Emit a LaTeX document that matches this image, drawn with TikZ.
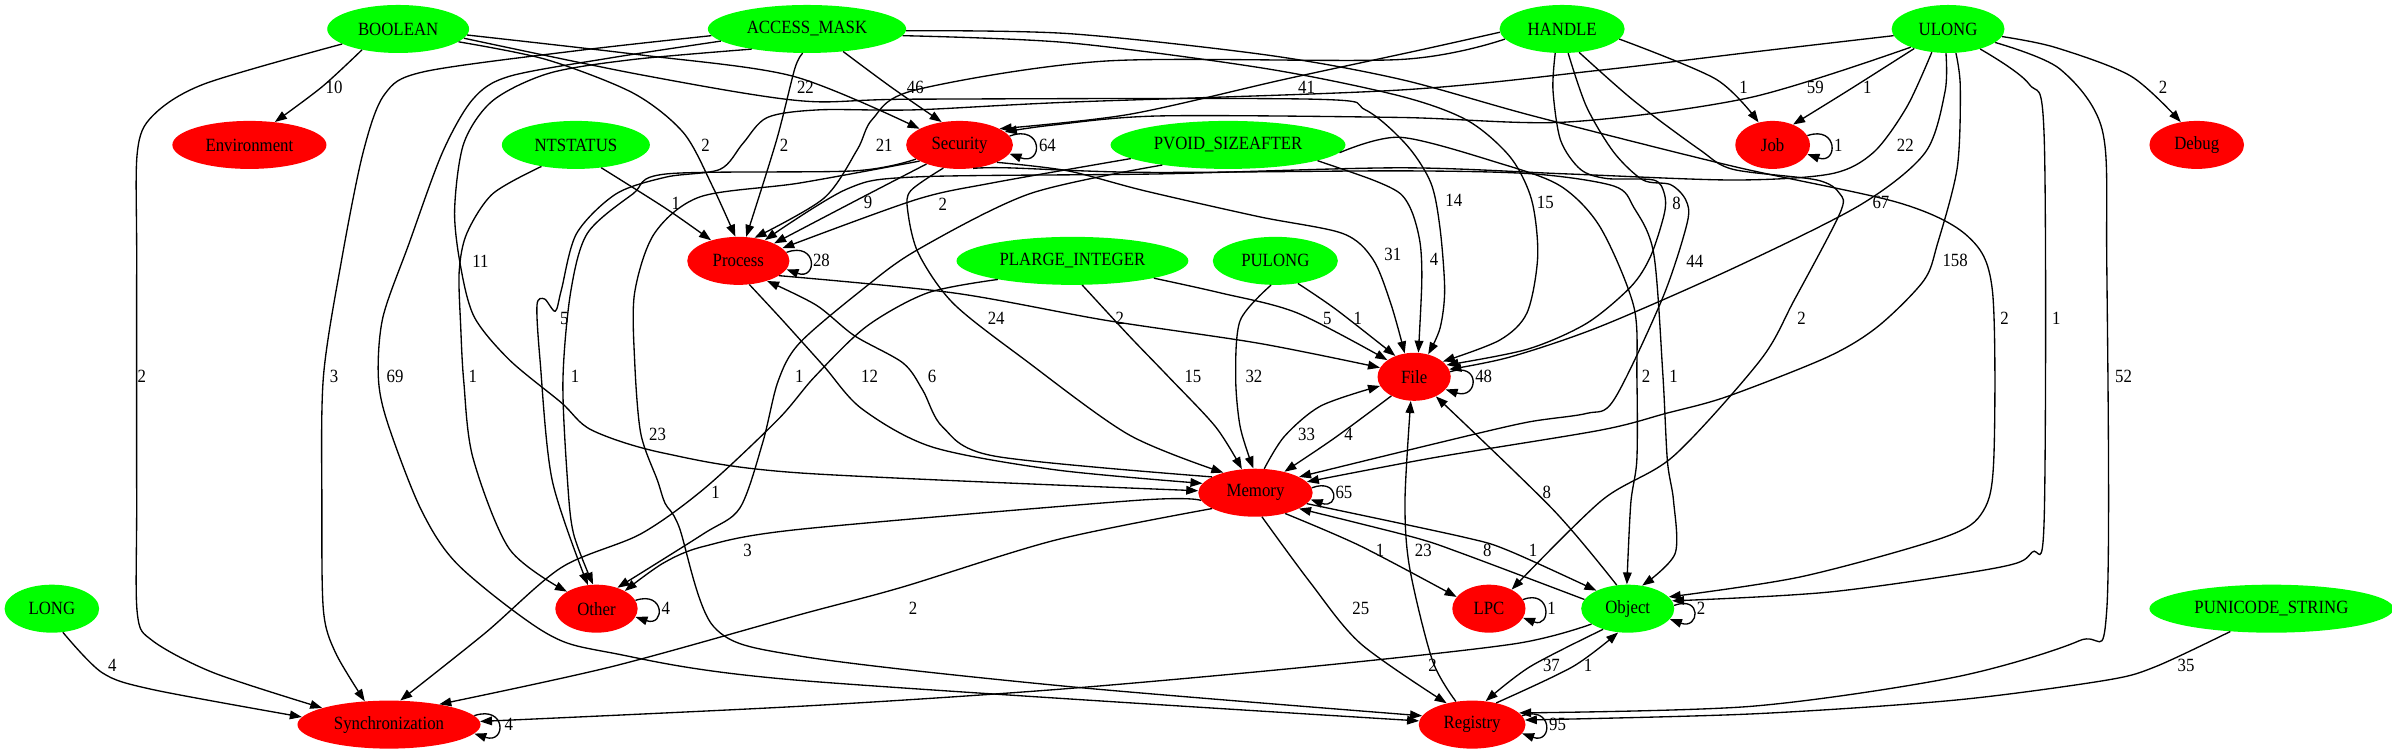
\documentclass[tikz,border=0pt]{standalone}
\usepackage{fontspec}
\setmainfont{Liberation Serif}[FakeStretch=0.9]
\usetikzlibrary{shapes.geometric,arrows.meta}
\definecolor{srcgreen}{RGB}{0,255,0}
\definecolor{catred}{RGB}{255,0,0}

\begin{document}
\begin{tikzpicture}[x=1.144pt, y=-1.144pt, >={Triangle[length=9pt,width=6.5pt]},
  nbox/.style={ellipse, inner sep=0pt, minimum height=36pt, font=\fontsize{14}{16}\selectfont},
  typenode/.style={nbox, fill=srcgreen, minimum width=#1*1.144pt},
  catnode/.style={nbox, fill=catred, minimum width=#1*1.144pt},
  link/.style={->, line width=1pt},
  lbl/.style={inner sep=0pt, font=\fontsize{14}{16}\selectfont}]

	\useasboundingbox (0,0) rectangle (1568,495);

	% types (top row and the others)
	\node[typenode=93] (bool) at (261,19) {BOOLEAN};
	\node[typenode=130] (amask) at (529,19) {ACCESS\_MASK};
	\node[typenode=82] (handle) at (1024,19) {HANDLE};
	\node[typenode=74] (ulong) at (1277,19) {ULONG};
	\node[typenode=97] (ntst) at (377.5,95) {NTSTATUS};
	\node[typenode=154] (pvoid) at (805,95) {PVOID\_SIZEAFTER};
	\node[typenode=152] (plarge) at (703,171) {PLARGE\_INTEGER};
	\node[typenode=82] (pulong) at (836,171) {PULONG};
	\node[typenode=62] (long) at (34,399) {LONG};
	\node[typenode=160] (puni) at (1489,399) {PUNICODE\_STRING};
	\node[typenode=61] (obj) at (1067,399) {Object};

	% categories
	\node[catnode=101] (env) at (163.5,95) {Environment};
	\node[catnode=70] (sec) at (629,95) {Security};
	\node[catnode=49] (job) at (1162,95) {Job};
	\node[catnode=62] (dbg) at (1440,95) {Debug};
	\node[catnode=67] (proc) at (484,171) {Process};
	\node[catnode=48] (file) at (927,247) {File};
	\node[catnode=75] (mem) at (823,323) {Memory};
	\node[catnode=54] (oth) at (391,399) {Other};
	\node[catnode=48] (lpc) at (976,399) {LPC};
	\node[catnode=120] (sync) at (255,475) {Synchronization};
	\node[catnode=70] (reg) at (965,475) {Registry};

	% BOOLEAN
	\draw[link] plot[smooth] coordinates {(bool.-150) (211,57) (env.42)};
	\node[lbl] (bool-env) at (219,57) {10};
	\draw[link] plot[smooth] coordinates {(bool.-5) (420,36) (520,50) (sec.158)};
	\node[lbl] (bool-sec) at (528,57) {22};
	\draw[link] plot[smooth] coordinates {(bool.-8) (420,49) (524,66) (600,65) (860,65) (895,72) (922,95) (938,120) (944,150) (947,190) (944,215) (file.58)};
	\node[lbl] (bool-file) at (953,131) {14};
	\draw[link] plot[smooth] coordinates {(bool.-12) (358,39) (415,61) (448,87) (467,122) (proc.97)};
	\node[lbl] (bool-proc) at (462.5,95) {2};
	\draw[link] plot[smooth] coordinates {(bool.-165) (134,55) (100,76) (90,100) (89.6,170) (89.6,330) (90,402) (100,420) (140,441) (sync.166)};
	\node[lbl] (bool-sync) at (93,247) {2};

	% ACCESS_MASK
	\draw[link] plot[smooth] coordinates {(amask.-32) (584,57) (sec.128)};
	\node[lbl] (amask-sec) at (600,57) {46};
	\draw[link] plot[smooth] coordinates {(amask.-100) (521,45) (509,92) (proc.72)};
	\node[lbl] (amask-proc) at (514,95) {2};
	\draw[link] plot[smooth] coordinates {(amask.-4) (700,28) (830,45) (918,63) (962,79) (990,103) (1004,131) (1008,168) (1001,205) (983,223) (file.28)};
	\node[lbl] (amask-file) at (1013,133) {15};
	\draw[link] plot[smooth] coordinates {(amask.-1) (700,22) (830,36) (918,52) (1005,76) (1136,109) (1245,133) (1290,155) (1306,190) (1307,300) (1300,335) (1275,352) (1181,378) (obj.16)};
	\node[lbl] (amask-obj) at (1314,208.6) {2};
	\draw[link] plot[smooth] coordinates {(amask.-176) (380,33) (278,47) (252,62) (238,100) (224,170) (212,247) (211,330) (212,400) (220,428) (sync.136)};
	\node[lbl] (amask-sync) at (219,247) {3};
	\draw[link] plot[smooth] coordinates {(amask.-172) (400,38) (334,50) (310,65) (290,100) (268,160) (251,208) (248,247) (254,277) (276,334) (301,371) (358,415) (401,428) (524,446) (reg.176)};
	\node[lbl] (amask-reg) at (259,247) {69};
	\draw[link] plot[smooth] coordinates {(amask.-160) (415,39) (360,48) (323,66) (304,94) (298,138) (302,175) (311,208) (334,236) (368,264) (388,282) (435,297) (524,310) (mem.178)};
	\node[lbl] (amask-mem) at (315,171) {11};

	% HANDLE
	\draw[link] plot[smooth] coordinates {(handle.-177) (930,33) (842,52) (740,75) (sec.22)};
	\node[lbl] (handle-sec) at (856.5,57) {41};
	\draw[link] plot[smooth] coordinates {(handle.-170) (918,39) (725,40) (600,59) (572,78) (562,98) (540,130) (proc.55)};
	\node[lbl] (handle-proc) at (579.6,95) {21};
	\draw[link] plot[smooth] coordinates {(handle.-10) (1125,52) (job.122)};
	\node[lbl] (handle-job) at (1143,57) {1};
	\draw[link] plot[smooth] coordinates {(handle.-106) (1018,59) (1023,92) (1036,111) (1053,117) (1084,118) (1091,127) (1091,140) (1082,168) (1069,188) (1040,212) (1001,229) (file.20)};
	\node[lbl] (handle-file) at (1099,133) {8};
	\draw[link] plot[smooth] coordinates {(handle.-76) (1040,70) (1058,100) (1077,118) (1095,121) (1105,131) (1106,146) (1090,195) (1058,262) (1040,271) (1000,277) (940,291) (mem.20)};
	\node[lbl] (handle-mem) at (1111,171) {44};
	\draw[link] plot[smooth] coordinates {(handle.-54) (1071,66) (1114,98) (1136,111) (1191,118) (1206,127) (1206,140) (1176,197) (1154,236) (1097,299) (1050,328) (lpc.40)};
	\node[lbl] (handle-lpc) at (1181,208.6) {2};

	% ULONG
	\draw[link] plot[smooth] coordinates {(ulong.-154) (1147,64) (1027,80) (918,77) (760,76) (690,82) (sec.16)};
	\node[lbl] (ulong-sec) at (1190,57) {59};
	\draw[link] plot[smooth] coordinates {(ulong.-150) (1212,59) (job.45)};
	\node[lbl] (ulong-job) at (1224,57) {1};
	\draw[link] plot[smooth] coordinates {(ulong.-8) (1347,31) (1397,50) (dbg.125)};
	\node[lbl] (ulong-dbg) at (1418,57) {2};
	\draw[link] plot[smooth] coordinates {(ulong.-125) (1250,70) (1228,100) (1200,114) (1136,118) (1027,114) (918,110) (760,114) (600,116) (555,124) (proc.38)};
	\node[lbl] (ulong-proc) at (1249,95) {22};
	\draw[link] plot[smooth] coordinates {(ulong.-95) (1275,60) (1262,100) (1220,134) (1138,175) (1049,214) (990,234) (file.12)};
	\node[lbl] (ulong-file) at (1233,133) {67};
	\draw[link] plot[smooth] coordinates {(ulong.-173) (1150,34) (1049,46) (918,59) (700,67) (600,72) (537,72) (503,77) (487,94) (472,111) (437,116) (404,127) (378,153) (368,190) (364,204) (357,196) (352,200) (354,236) (362,315) (oth.110)};
	\node[lbl] (ulong-oth) at (370,208.6) {5};
	\draw[link] plot[smooth] coordinates {(ulong.-72) (1285,57) (1283,110) (1270,160) (1261,184) (1231,214) (1198,234) (1132,260) (1092,271) (1049,282) (940,300) (mem.12)};
	\node[lbl] (ulong-mem) at (1281.6,171) {158};
	\draw[link] plot[smooth] coordinates {(ulong.-32) (1330,55) (1340,90) (1340,340) (1332,362) (1310,372) (1200,388) (obj.10)};
	\node[lbl] (ulong-obj) at (1348,208.6) {1};
	\draw[link] plot[smooth] coordinates {(ulong.-16) (1350,45) (1378,85) (1381,170) (1381,400) (1363,420) (1281,444) (1148,463) (reg.14)};
	\node[lbl] (ulong-reg) at (1392,247) {52};

	% PUNICODE_STRING
	\draw[link] plot[smooth] coordinates {(puni.-151) (1413,437) (1380,446) (1281,459) (1148,468) (reg.5)};
	\node[lbl] (puni-reg) at (1433,436) {35};

	% NTSTATUS
	\draw[link] plot[smooth] coordinates {(ntst.-42) (437,137) (proc.143)};
	\node[lbl] (ntst-proc) at (443,133) {1};
	\draw[link] plot[smooth] coordinates {(ntst.-148) (323,127) (306,153) (301,178) (302,214) (304,250) (310,300) (334,360) (oth.150)};
	\node[lbl] (ntst-oth) at (310,247) {1};

	% Security
	\draw[link] plot[smooth] coordinates {(sec.-150) (562,131) (proc.26)};
	\node[lbl] (sec-proc) at (569,133) {9};
	\draw[link] plot[smooth] coordinates {(sec.-25) (700,112) (750,125) (825,142) (880,153) (900,170) (912,200) (file.112)};
	\node[lbl] (sec-file) at (913,167) {31};
	\draw[link] plot[smooth] coordinates {(sec.-125) (597,125) (595,138) (602,166) (625,199) (672,236) (740,285) (mem.148)};
	\node[lbl] (sec-mem) at (653,208.6) {24};
	\draw[link] plot[smooth] coordinates {(sec.-162) (560,112) (437,114) (415,127) (385,153) (374,192) (369,250) (372,315) (376,350) (oth.98)};
	\node[lbl] (sec-oth) at (377,247) {1};
	\draw[link] plot[smooth] coordinates {(sec.-158) (524,120) (459,129) (429,153) (416,192) (416,236) (420,284) (431,315) (436,330) (445,345) (468,411) (524,430) (700,450) (reg.170)};
	\node[lbl] (sec-reg) at (431,284.5) {23};
	\draw[link] plot[smooth] coordinates {(sec.-60) (660,110) (750,113) (918,112) (1005,114) (1058,122) (1071,136) (1084,166) (1090,245) (1093,302) (1097,328) (1098,363) (obj.58)};
	\node[lbl] (sec-obj) at (1097,247) {1};

	% PVOID_SIZEAFTER
	\draw[link] plot[smooth] coordinates {(pvoid.-4) (918,90) (983,107) (1023,122) (1049,149) (1071,201) (1073,247) (1073,301) (1069,330) (obj.92)};
	\node[lbl] (pvoid-obj) at (1079,247) {2};
	\draw[link] plot[smooth] coordinates {(pvoid.-172) (650,120) (600,131) (proc.16)};
	\node[lbl] (pvoid-proc) at (618,134) {2};
	\draw[link] plot[smooth] coordinates {(pvoid.-10) (900,118) (918,127) (926,140) (931,160) (932,185) (file.80)};
	\node[lbl] (pvoid-file) at (940,170) {4};
	\draw[link] plot[smooth] coordinates {(pvoid.-163) (675,127) (601,164) (565,190) (524,225) (510,250) (500,290) (485,333) (461,350) (oth.45)};
	\node[lbl] (pvoid-oth) at (524,247) {1};

	% PLARGE_INTEGER
	\draw[link] plot[smooth] coordinates {(plarge.-12) (800,192) (850,205) (file.148)};
	\node[lbl] (plarge-file) at (870,208.6) {5};
	\draw[link] plot[smooth] coordinates {(plarge.-68) (740,220) (766,247) (797,280) (mem.120)};
	\node[lbl] (plarge-mem) at (782,247) {15};
	\draw[link] plot[smooth] coordinates {(plarge.-166) (608,192) (568,214) (534,247) (510,275) (462,320) (420,350) (368,372) (318,415) (sync.65)};
	\node[lbl] (plarge-sync) at (469,323) {1};

	% PULONG
	\draw[link] plot[smooth] coordinates {(pulong.-45) (876,203) (file.132)};
	\node[lbl] (pulong-file) at (890,208.6) {1};
	\draw[link] plot[smooth] coordinates {(pulong.-100) (813,210) (810,247) (813,280) (mem.95)};
	\node[lbl] (pulong-mem) at (822,247) {32};

	% Process
	\draw[link] plot[smooth] coordinates {(proc.-20) (625,192) (725,210) (825,225) (file.165)};
	\node[lbl] (proc-file) at (734,208.6) {2};
	\draw[link] plot[smooth] coordinates {(proc.-65) (513,210) (540,240) (565,268) (611,293) (692,308) (mem.170)};
	\node[lbl] (proc-mem) at (570,247) {12};

	% Memory and File
	\draw[link] plot[smooth] coordinates {(mem.160) (652,299) (618,280) (605,256) (592,238) (560,220) (535,200) (proc.-35)};
	\node[lbl] (mem-proc) at (611,247) {6};
	\draw[link] plot[smooth] coordinates {(file.-140) (875,287) (mem.36)};
	\node[lbl] (file-mem) at (884,284.5) {4};
	\draw[link] plot[smooth] coordinates {(mem.70) (842,286) (866,266) (file.-165)};
	\node[lbl] (mem-file) at (856.5,284.5) {33};
	\draw[link] plot[smooth] coordinates {(mem.-172) (745,328) (524,347) (462,358) (435,369) (oth.32)};
	\node[lbl] (mem-oth) at (490,361) {3};
	\draw[link] plot[smooth] coordinates {(mem.-160) (692,354) (591,385) (524,403) (401,437) (sync.22)};
	\node[lbl] (mem-sync) at (598.6,399) {2};
	\draw[link] plot[smooth] coordinates {(mem.-35) (892,358) (lpc.160)};
	\node[lbl] (mem-lpc) at (904.6,361) {1};
	\draw[link] plot[smooth] coordinates {(mem.-75) (859,382) (892,422) (reg.140)};
	\node[lbl] (mem-reg) at (892,399) {25};
	\draw[link] plot[smooth] coordinates {(mem.-12) (959,352) (989,361) (obj.150)};
	\node[lbl] (mem-obj) at (1005,361) {1};

	% Object and Registry
	\draw[link] plot[smooth] coordinates {(obj.168) (959,363) (926,352) (mem.-20)};
	\node[lbl] (obj-mem) at (975,361) {8};
	\draw[link] plot[smooth] coordinates {(obj.115) (1018,334) (file.-42)};
	\node[lbl] (obj-file) at (1014,323) {8};
	\draw[link] plot[smooth] coordinates {(reg.125) (939,433) (924,372) (921,328) (file.-98)};
	\node[lbl] (reg-file) at (933,361) {23};
	\draw[link] plot[smooth] coordinates {(obj.-140) (1003,437) (reg.60)};
	\node[lbl] (obj-reg) at (1017,436) {37};
	\draw[link] plot[smooth] coordinates {(reg.42) (1031,437) (obj.-112)};
	\node[lbl] (reg-obj) at (1041,436) {1};
	\draw[link] plot[smooth] coordinates {(obj.-157) (993,422) (859,437) (692,452) (524,463) (sync.2)};
	\node[lbl] (obj-sync) at (939,436) {2};

	% LONG
	\draw[link] plot[smooth] coordinates {(long.-65) (67,441) (100,452) (sync.175)};
	\node[lbl] (long-sync) at (73.6,436) {4};

	% self loops
	\draw[link] (sec.10) .. controls (684,81) and (684,109) .. (sec.-10);
	\node[lbl] (sec-loop) at (686.6,95) {64};
	\draw[link] (job.15) .. controls (1205,82) and (1205,108) .. (job.-15);
	\node[lbl] (job-loop) at (1205,95) {1};
	\draw[link] (proc.10) .. controls (536,158) and (536,184) .. (proc.-10);
	\node[lbl] (proc-loop) at (538.5,171) {28};
	\draw[link] (file.8) .. controls (971,237) and (969,262) .. (file.-22);
	\node[lbl] (file-loop) at (972.6,247) {48};
	\draw[link] (mem.5) .. controls (878,313) and (878,334) .. (mem.-7);
	\node[lbl] (mem-loop) at (881,323) {65};
	\draw[link] (oth.12) .. controls (436,387) and (436,411) .. (oth.-12);
	\node[lbl] (oth-loop) at (436.5,399) {4};
	\draw[link] (lpc.15) .. controls (1017,386) and (1017,412) .. (lpc.-15);
	\node[lbl] (lpc-loop) at (1017,399) {1};
	\draw[link] (obj.4) .. controls (1116,390) and (1114,413) .. (obj.-14);
	\node[lbl] (obj-loop) at (1115,399) {2};
	\draw[link] (sync.6) .. controls (332,462) and (332,488) .. (sync.-6);
	\node[lbl] (sync-loop) at (333.5,475) {4};
	\draw[link] (reg.10) .. controls (1018,462) and (1018,488) .. (reg.-10);
	\node[lbl] (reg-loop) at (1021,475) {95};

\end{tikzpicture}
\end{document}
